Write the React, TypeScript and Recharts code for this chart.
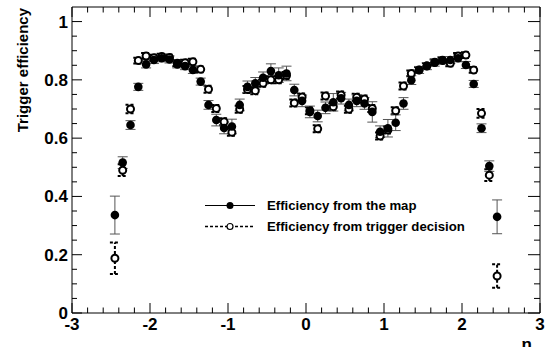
import { ScatterChart, Scatter, XAxis, YAxis, ErrorBar, Legend } from "recharts";

// bin centres in eta
const etaBins = [
  -2.45, -2.35, -2.25, -2.15, -2.05, -1.95, -1.85, -1.75, -1.65, -1.55,
  -1.45, -1.35, -1.25, -1.15, -1.05, -0.95, -0.85, -0.75, -0.65, -0.55,
  -0.45, -0.35, -0.25, -0.15, -0.05, 0.05, 0.15, 0.25, 0.35, 0.45,
  0.55, 0.65, 0.75, 0.85, 0.95, 1.05, 1.15, 1.25, 1.35, 1.45,
  1.55, 1.65, 1.75, 1.85, 1.95, 2.05, 2.15, 2.25, 2.35, 2.45,
];

// efficiency from the map (filled)
const mapEff = [
  0.336, 0.516, 0.645, 0.776, 0.853, 0.868, 0.874, 0.870, 0.853, 0.847,
  0.834, 0.794, 0.714, 0.662, 0.635, 0.640, 0.714, 0.776, 0.788, 0.807,
  0.830, 0.816, 0.822, 0.765, 0.728, 0.690, 0.676, 0.704, 0.723, 0.737,
  0.714, 0.728, 0.719, 0.690, 0.622, 0.634, 0.653, 0.719, 0.799, 0.834,
  0.847, 0.859, 0.868, 0.868, 0.874, 0.851, 0.786, 0.634, 0.504, 0.330,
];
const mapErr = [
  0.065, 0.02, 0.015, 0.012, 0.012, 0.012, 0.012, 0.012, 0.012, 0.012,
  0.012, 0.012, 0.015, 0.02, 0.02, 0.025, 0.02, 0.02, 0.02, 0.02,
  0.025, 0.025, 0.025, 0.02, 0.02, 0.02, 0.02, 0.02, 0.03, 0.02,
  0.02, 0.02, 0.02, 0.035, 0.02, 0.03, 0.027, 0.02, 0.015, 0.012,
  0.012, 0.012, 0.012, 0.012, 0.012, 0.012, 0.012, 0.015, 0.018, 0.058,
];

// efficiency from trigger decision (open)
const trigEff = [
  0.188, 0.490, 0.700, 0.866, 0.882, 0.876, 0.880, 0.877, 0.857, 0.859,
  0.862, 0.836, 0.768, 0.702, 0.656, 0.620, 0.699, 0.767, 0.763, 0.788,
  0.800, 0.800, 0.815, 0.721, 0.741, 0.694, 0.632, 0.745, 0.708, 0.748,
  0.699, 0.740, 0.734, 0.702, 0.607, 0.628, 0.694, 0.779, 0.822, 0.834,
  0.848, 0.860, 0.866, 0.857, 0.882, 0.885, 0.834, 0.685, 0.473, 0.127,
];
const trigErr = [
  0.054, 0.02, 0.015, 0.01, 0.01, 0.01, 0.01, 0.01, 0.01, 0.01,
  0.01, 0.01, 0.012, 0.012, 0.012, 0.012, 0.012, 0.012, 0.012, 0.012,
  0.012, 0.012, 0.012, 0.012, 0.012, 0.012, 0.012, 0.012, 0.012, 0.012,
  0.012, 0.012, 0.012, 0.012, 0.012, 0.012, 0.012, 0.012, 0.01, 0.01,
  0.01, 0.01, 0.01, 0.01, 0.01, 0.01, 0.01, 0.015, 0.02, 0.04,
];

const xTicks = [
  -3, -2.8, -2.6, -2.4, -2.2, -2, -1.8, -1.6, -1.4, -1.2, -1, -0.8, -0.6, -0.4, -0.2,
  0, 0.2, 0.4, 0.6, 0.8, 1, 1.2, 1.4, 1.6, 1.8, 2, 2.2, 2.4, 2.6, 2.8, 3,
];
const yTicks = [
  0, 0.05, 0.1, 0.15, 0.2, 0.25, 0.3, 0.35, 0.4, 0.45, 0.5,
  0.55, 0.6, 0.65, 0.7, 0.75, 0.8, 0.85, 0.9, 0.95, 1,
];

const mapData = etaBins.map((eta, i) => ({ eta, eff: mapEff[i], err: mapErr[i] }));
const trigData = etaBins.map((eta, i) => ({ eta, eff: trigEff[i], err: trigErr[i] }));

const FONT = "'Liberation Sans', Arial, Helvetica, sans-serif";

const onStep = (v: number, step: number) => Math.abs(v / step - Math.round(v / step)) < 1e-6;

function renderTick(p: any, side: "bottom" | "top" | "left" | "right") {
  const { x, y } = p;
  const v = p.payload.value as number;
  if (side === "bottom" || side === "top") {
    const major = onStep(v, 1);
    const len = major ? 10 : 5.5;
    const dir = side === "bottom" ? -1 : 1;
    return (
      <g>
        <line x1={x} y1={y} x2={x} y2={y + dir * len} stroke="#000" strokeWidth={1} />
        {side === "bottom" && major && (
          <text x={x} y={y + 16.5} textAnchor="middle" fontSize={17} fontWeight="bold" fontFamily={FONT} fill="#000">
            {String(v)}
          </text>
        )}
      </g>
    );
  }
  const major = onStep(v, 0.2);
  const len = major ? (side === "left" ? 10 : 12) : (side === "left" ? 5 : 6);
  const dir = side === "left" ? 1 : -1;
  return (
    <g>
      <line x1={x} y1={y} x2={x + dir * len} y2={y} stroke="#000" strokeWidth={1} />
      {side === "left" && major && (
        <text x={x - 4} y={y + 6} textAnchor="end" fontSize={17} fontWeight="bold" fontFamily={FONT} fill="#000">
          {String(v)}
        </text>
      )}
    </g>
  );
}

const FilledDot = (p: any) => <circle cx={p.cx} cy={p.cy} r={4.3} fill="#000" />;
const OpenDot = (p: any) => <circle cx={p.cx} cy={p.cy} r={3.5} fill="#fff" stroke="#000" strokeWidth={2} />;

function LegendBox() {
  const row = (label: string, dashed: boolean) => (
    <div style={{ display: "flex", alignItems: "center", height: 21 }}>
      <svg width={67} height={21} style={{ display: "block" }}>
        <line x1={5} y1={10.5} x2={55} y2={10.5} stroke="#000" strokeWidth={dashed ? 1.5 : 1} strokeDasharray={dashed ? "3 2" : undefined} />
        {dashed ? (
          <circle cx={30} cy={10.5} r={3} fill="#fff" stroke="#000" strokeWidth={1.2} />
        ) : (
          <circle cx={30} cy={10.5} r={3.5} fill="#000" />
        )}
      </svg>
      <span style={{ fontFamily: FONT, fontWeight: "bold", fontSize: 13.2, color: "#000", whiteSpace: "nowrap" }}>{label}</span>
    </div>
  );
  return (
    <div>
      {row("Efficiency from the map", false)}
      {row("Efficiency from trigger decision", true)}
    </div>
  );
}

export default function App() {
  return (
    <div style={{ position: "absolute", left: 0, top: 0, background: "#fff" }}>
      <ScatterChart width={547} height={347} margin={{ top: 6, right: 6, bottom: 33, left: 71 }}>
        <XAxis
          xAxisId="b"
          type="number"
          dataKey="eta"
          domain={[-3, 3]}
          ticks={xTicks}
          interval={0}
          height={1}
          tickSize={0}
          tickMargin={0}
          allowDataOverflow
          axisLine={{ stroke: "#000" }}
          tickLine={false}
          tick={(p: any) => renderTick(p, "bottom")}
          label={{
            content: () => (
              <text x={532} y={350} textAnchor="end" fontSize={17} fontWeight="bold" fontFamily={FONT} fill="#000">
                η
              </text>
            ),
          }}
        />
        <XAxis
          xAxisId="t"
          orientation="top"
          type="number"
          dataKey="eta"
          domain={[-3, 3]}
          ticks={xTicks}
          interval={0}
          height={1}
          tickSize={0}
          tickMargin={0}
          allowDataOverflow
          axisLine={{ stroke: "#000" }}
          tickLine={false}
          tick={(p: any) => renderTick(p, "top")}
        />
        <YAxis
          yAxisId="l"
          type="number"
          dataKey="eff"
          domain={[0, 1.05]}
          ticks={yTicks}
          interval={0}
          width={1}
          tickSize={0}
          tickMargin={0}
          allowDataOverflow
          axisLine={{ stroke: "#000" }}
          tickLine={false}
          tick={(p: any) => renderTick(p, "left")}
          label={{
            content: () => (
              <text
                x={0}
                y={0}
                transform="translate(27.5, 8) rotate(-90)"
                textAnchor="end"
                fontSize={15}
                fontWeight="bold"
                fontFamily={FONT}
                fill="#000"
              >
                Trigger efficiency
              </text>
            ),
          }}
        />
        <YAxis
          yAxisId="r"
          orientation="right"
          type="number"
          dataKey="eff"
          domain={[0, 1.05]}
          ticks={yTicks}
          interval={0}
          width={1}
          tickSize={0}
          tickMargin={0}
          allowDataOverflow
          axisLine={{ stroke: "#000" }}
          tickLine={false}
          tick={(p: any) => renderTick(p, "right")}
        />
        <Scatter
          name="Efficiency from trigger decision"
          data={trigData}
          xAxisId="b"
          yAxisId="l"
          shape={OpenDot}
          isAnimationActive={false}
        >
          <ErrorBar
            dataKey="err"
            direction="y"
            width={5}
            stroke="#000"
            strokeWidth={2}
            strokeDasharray="3 2"
            isAnimationActive={false}
          />
        </Scatter>
        <Scatter
          name="Efficiency from the map"
          data={mapData}
          xAxisId="b"
          yAxisId="l"
          shape={FilledDot}
          isAnimationActive={false}
        >
          <ErrorBar dataKey="err" direction="y" width={5} stroke="#555" strokeWidth={1} isAnimationActive={false} />
        </Scatter>
        <Legend
          layout="horizontal"
          verticalAlign="middle"
          content={() => <LegendBox />}
          wrapperStyle={{ position: "absolute", left: 200, top: 194.5, width: 320, height: 42 }}
        />
      </ScatterChart>
    </div>
  );
}
